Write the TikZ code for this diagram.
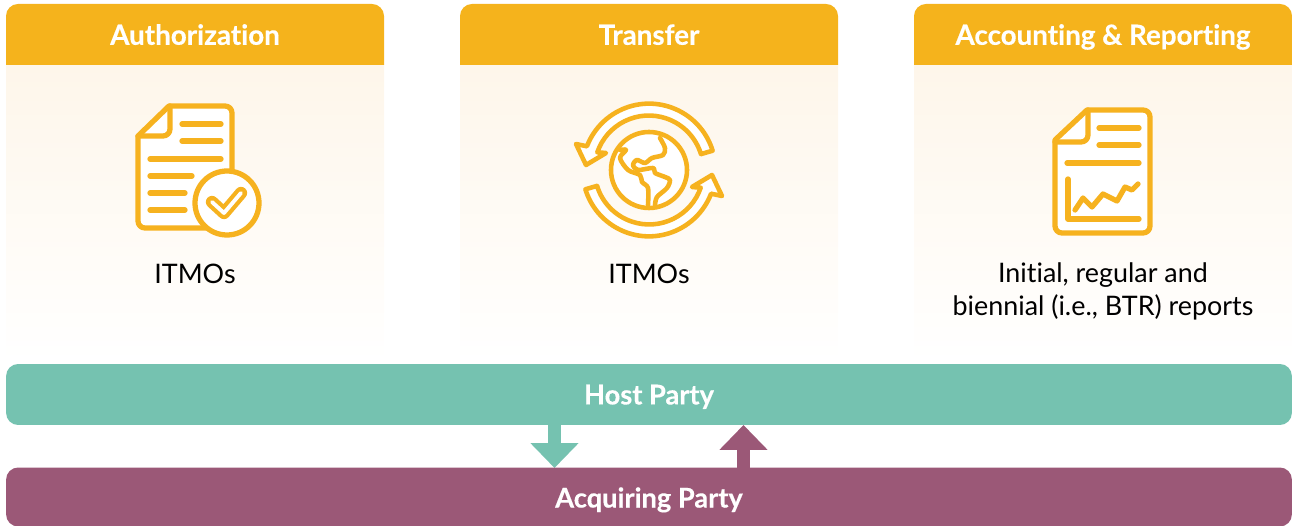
\documentclass[tikz,border=0pt]{standalone}
\usepackage{fontspec}
\setmainfont{Lato}[Ligatures = CommonOff, BoldFeatures = {FakeBold = 0.35}]
\usepackage{tikz}
\usetikzlibrary{arrows.meta}
\definecolor{headcol}{HTML}{F5B31C}
\definecolor{bodycol}{HTML}{FEF6EA}
\definecolor{hostcol}{HTML}{75C2B0}
\definecolor{acqcol}{HTML}{9B5877}
\definecolor{iconcol}{HTML}{F6B21F}
\tikzset{
  headtext/.style = {text = white, font = \fontsize{15.8}{18}\selectfont\bfseries, text height = 12pt, text depth = 3.7pt},
  captext/.style = {align = center, font = \fontsize{15.3}{18.7}\selectfont},
  bartext/.style = {text = white, font = \fontsize{15.5}{18}\selectfont\bfseries},
  bar/.style = {minimum width = 25.72cm, inner sep = 0, rounded corners = 0.24cm, text height = 12.3pt, text depth = 1pt},
  iconline/.style = {draw = iconcol, line width = 3pt, line cap = round, line join = round},
  globeline/.style = {draw = iconcol, line width = 2.6pt, line cap = round, line join = round},
  fatarrow/.style = {line width = 7.4pt, -{Triangle[length = 14.2pt, width = 26.6pt]}}
}

\begin{document}
\begin{tikzpicture}[x = 0.02cm, y = -0.02cm]
    \useasboundingbox (0, 0) rectangle (1292, 526);

    % cards
    \foreach \x/\head/\name in {6/Authorization/auth, 460/Transfer/transfer, 914/Accounting \& Reporting/report} {
      \shade [top color = bodycol, bottom color = white] (\x, 65) rectangle (\x + 378, 362);
      \fill [headcol] (\x, 65) -- (\x, 16) arc (180:270:12) -- (\x + 366, 4) arc (-90:0:12) -- (\x + 378, 65) -- cycle;
      \node (\name) [headtext] at (\x + 189, 37.5) {\head};
    }

    \node (authcap) [captext] at (195, 274) {ITMOs};
    \node (transfercap) [captext] at (649, 274) {ITMOs};
    \node (reportcap) [captext] at (1103, 291.5) {Initial, regular and\\biennial (i.e., BTR) reports};

    % sheet with check
    \draw [iconline, fill = white] (138, 136) -- (169, 106) -- (225, 106)
      arc (-90:0:7) -- (232, 221) arc (0:90:7) -- (145, 228) arc (90:180:7) -- cycle;
    \draw [iconline] (170, 106) -- (170, 129) arc (0:90:7) -- (138, 136);
    \draw [iconline] (182, 124) -- (221, 124);
    \draw [iconline] (182, 141) -- (221, 141);
    \draw [iconline] (150, 159) -- (221, 159);
    \draw [iconline] (150, 176) -- (192, 176);
    \draw [iconline] (150, 193) -- (185, 193);
    \draw [iconline] (150, 210) -- (185, 210);
    \draw [iconline, fill = white] (227, 203) circle (32);
    \draw [iconcol, line width = 7pt, line join = round, line cap = round] (212, 202) -- (224, 213) -- (241, 193);
    \draw [white, line width = 2.2pt, line join = round, line cap = round] (212, 202) -- (224, 213) -- (241, 193);

    % globe with arrows
    \foreach \r in {0, 180} {
      \draw [globeline, fill = white, rotate around = {\r:(649, 170)}]
        (712.6, 150.7) arc (-17:-159:66.5) -- (576, 144) -- (586, 165) -- (606, 153) -- (597.3, 152.3)
        arc (-161:-17:54.5) -- cycle;
    }
    \draw [globeline, fill = white] (649, 170) circle (38);
    \draw [globeline] plot [smooth, tension = 0.5] coordinates {(660, 138) (665, 148) (663, 155) (652, 158) (645, 163) (637, 160) (633, 165) (638, 170) (653, 168) (655, 173) (665, 177) (670, 180) (667, 188) (657, 197) (655, 205)};
    \draw [globeline] plot [smooth, tension = 0.5] coordinates {(620, 150) (626, 150) (620, 158) (628, 170) (640, 175) (642, 182) (648, 188) (648, 205)};

    % sheet with chart
    \draw [iconline, fill = white] (1055, 140) -- (1087, 110) -- (1143, 110)
      arc (-90:0:7) -- (1150, 226) arc (0:90:7) -- (1062, 233) arc (90:180:7) -- cycle;
    \draw [iconline] (1088, 110) -- (1088, 135) arc (0:90:7) -- (1055, 142);
    \draw [iconline] (1099, 128) -- (1139, 128);
    \draw [iconline] (1099, 145) -- (1139, 145);
    \draw [iconline] (1067, 163) -- (1139, 163);
    \draw [iconline] (1068, 179) -- (1068, 219) -- (1139, 219);
    \draw [iconline] (1075, 210) -- (1083, 198) -- (1092, 207) -- (1103, 194) -- (1117, 201) -- (1125, 187) -- (1132, 190) -- (1138, 184);

    % parties
    \coordinate (hostout) at (554.5, 424);
    \coordinate (acqin) at (554.5, 468);
    \coordinate (acqout) at (743.5, 469);
    \coordinate (hostin) at (743.5, 425);
    \draw [fatarrow, hostcol] (hostout) -- (acqin);
    \draw [fatarrow, acqcol] (acqout) -- (hostin);

    \node (host) [bar, bartext, fill = hostcol, minimum height = 1.22cm] at (649, 394.5) {Host Party};
    \node (acquiring) [bar, bartext, fill = acqcol, minimum height = 1.18cm, text height = 13pt] at (649, 497) {Acquiring Party};
\end{tikzpicture}
\end{document}
